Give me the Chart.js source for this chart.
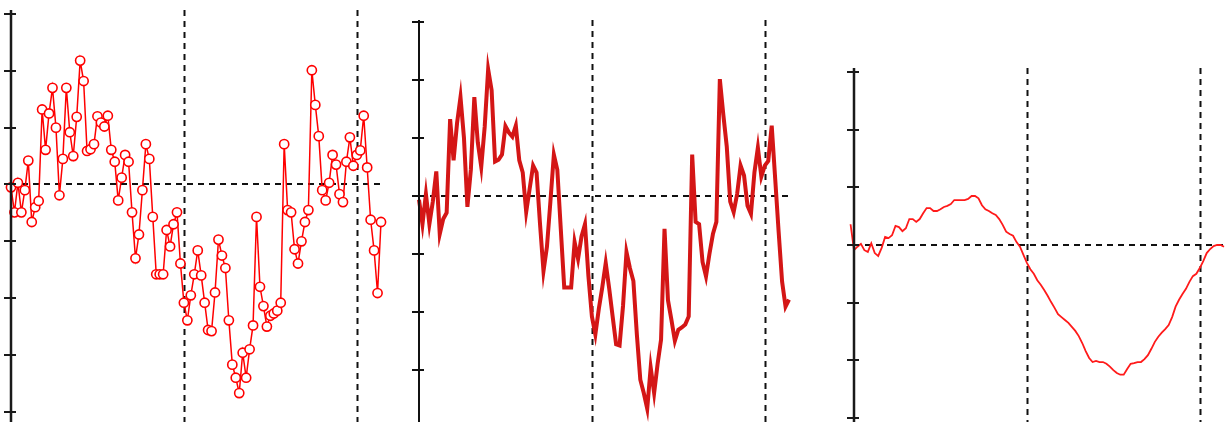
<!DOCTYPE html>
<html>
<head>
<meta charset="utf-8">
<script src="https://cdn.jsdelivr.net/npm/chart.js@4/dist/chart.umd.min.js"></script>
<style>
  html, body { margin: 0; padding: 0; background: #fff; width: 1227px; height: 422px; overflow: hidden; }
  .panel { position: absolute; top: 0; height: 422px; }
  .panel canvas { display: block; }
  #p2 canvas { filter: blur(0.45px); }
</style>
</head>
<body>
<div class="panel" id="p1" style="left:0px;width:400px"><canvas id="c1" width="400" height="422"></canvas></div>
<div class="panel" id="p2" style="left:400px;width:400px"><canvas id="c2" width="400" height="422"></canvas></div>
<div class="panel" id="p3" style="left:827px;width:400px"><canvas id="c3" width="400" height="422"></canvas></div>
<script>
// Sampled signal with markers (left panel)
const sampledSeries = [
  -0.05, -0.49, 0.03, -0.49, -0.10, 0.42, -0.66, -0.40, -0.29, 1.32,
   0.61, 1.25, 1.70, 1.00, -0.19, 0.45, 1.70, 0.92, 0.50, 1.19,
   2.18, 1.82, 0.59, 0.62, 0.71, 1.20, 1.09, 1.02, 1.21, 0.61,
   0.40, -0.28, 0.12, 0.52, 0.40, -0.49, -1.30, -0.88, -0.10, 0.71,
   0.45, -0.57, -1.58, -1.58, -1.58, -0.80, -1.09, -0.70, -0.49, -1.39,
  -2.08, -2.39, -1.95, -1.58, -1.16, -1.60, -2.08, -2.56, -2.58, -1.90,
  -0.97, -1.25, -1.47, -2.39, -3.17, -3.40, -3.67, -2.96, -3.40, -2.90,
  -2.48, -0.57, -1.80, -2.14, -2.50, -2.31, -2.27, -2.22, -2.08, 0.71,
  -0.45, -0.49, -1.14, -1.39, -1.00, -0.66, -0.45, 2.01, 1.40, 0.85,
  -0.10, -0.28, 0.03, 0.52, 0.35, -0.17, -0.31, 0.40, 0.83, 0.33,
   0.52, 0.60, 1.21, 0.30, -0.62, -1.16, -1.91, -0.66
];

// Same signal drawn as a heavy trace (middle panel)
const traceSeries = [
  -0.07, -0.49, 0.03, -0.49, -0.10, 0.42, -0.66, -0.40, -0.29, 1.32,
   0.61, 1.25, 1.70, 1.00, -0.19, 0.45, 1.70, 0.92, 0.50, 1.19,
   2.18, 1.82, 0.59, 0.62, 0.71, 1.20, 1.09, 1.02, 1.21, 0.61,
   0.40, -0.28, 0.12, 0.52, 0.40, -0.49, -1.30, -0.88, -0.10, 0.71,
   0.45, -0.57, -1.58, -1.58, -1.58, -0.80, -1.09, -0.70, -0.49, -1.39,
  -2.08, -2.39, -1.95, -1.58, -1.16, -1.60, -2.08, -2.56, -2.58, -1.90,
  -0.97, -1.25, -1.47, -2.39, -3.17, -3.40, -3.67, -2.96, -3.40, -2.90,
  -2.48, -0.57, -1.80, -2.14, -2.50, -2.31, -2.27, -2.22, -2.08, 0.71,
  -0.45, -0.49, -1.14, -1.39, -1.00, -0.66, -0.45, 2.01, 1.40, 0.85,
  -0.10, -0.28, 0.03, 0.52, 0.35, -0.17, -0.31, 0.40, 0.83, 0.33,
   0.52, 0.60, 1.21, 0.30, -0.62, -1.48, -1.91, -1.79
];

// Smoothed signal (right panel), first sample at x = -1
const smoothStart = -1;
const smoothSeries = [
   0.36, -0.09, -0.03, 0.02, -0.09, -0.12, 0.03, -0.14, -0.19, -0.05,
   0.14, 0.12, 0.17, 0.33, 0.31, 0.24, 0.29, 0.45, 0.45, 0.40,
   0.45, 0.55, 0.64, 0.64, 0.59, 0.59, 0.62, 0.66, 0.68, 0.71,
   0.78, 0.78, 0.78, 0.78, 0.80, 0.85, 0.85, 0.81, 0.69, 0.62,
   0.59, 0.55, 0.52, 0.45, 0.35, 0.23, 0.19, 0.16, 0.05, -0.03,
  -0.17, -0.31, -0.42, -0.50, -0.61, -0.69, -0.78, -0.88, -0.99, -1.09,
  -1.20, -1.25, -1.30, -1.35, -1.42, -1.49, -1.58, -1.70, -1.84, -1.96,
  -2.03, -2.01, -2.03, -2.03, -2.06, -2.11, -2.17, -2.22, -2.25, -2.25,
  -2.15, -2.06, -2.05, -2.03, -2.03, -1.98, -1.91, -1.80, -1.68, -1.59,
  -1.52, -1.46, -1.39, -1.25, -1.07, -0.95, -0.85, -0.76, -0.64, -0.54,
  -0.50, -0.40, -0.28, -0.14, -0.07, -0.02, 0.00, 0.00, -0.03, -0.09
];

// Vertical reference lines and axis ticks
const xGridValues = [50, 100];
const xLast = 107;

function toPoints(values, start) {
  return values.map((v, i) => ({ x: start + i, y: v }));
}

// Draws the dashed reference lines behind the data and the tick axis on top
const framePlugin = {
  id: 'frame',
  beforeDatasetsDraw(chart, args, opts) {
    const ctx = chart.ctx, xs = chart.scales.x, ys = chart.scales.y, area = chart.chartArea;
    ctx.save();
    ctx.strokeStyle = opts.dashColor;
    ctx.lineWidth = opts.dashWidth;
    ctx.setLineDash([6, 5]);
    xGridValues.forEach(v => {
      const px = Math.round(xs.getPixelForValue(v)) + 0.5;
      ctx.beginPath();
      ctx.moveTo(px, area.top);
      ctx.lineTo(px, chart.height);
      ctx.stroke();
    });
    const py = Math.round(ys.getPixelForValue(0));
    ctx.beginPath();
    ctx.moveTo(xs.getPixelForValue(0), py);
    ctx.lineTo(xs.getPixelForValue(opts.hEnd), py);
    ctx.stroke();
    ctx.restore();
  },
  afterDatasetsDraw(chart, args, opts) {
    const ctx = chart.ctx, xs = chart.scales.x, ys = chart.scales.y, area = chart.chartArea;
    const x0 = xs.getPixelForValue(0);
    ctx.save();
    ctx.strokeStyle = opts.axisColor;
    ctx.lineWidth = opts.axisWidth;
    ctx.beginPath();
    ctx.moveTo(x0, area.top);
    ctx.lineTo(x0, chart.height);
    ctx.stroke();
    ctx.lineWidth = 2;
    for (let v = Math.ceil(ys.min); v <= Math.floor(ys.max); v++) {
      const ty = Math.round(ys.getPixelForValue(v));
      ctx.beginPath();
      ctx.moveTo(x0 - 7, ty);
      ctx.lineTo(x0 + 5, ty);
      ctx.stroke();
    }
    ctx.restore();
  }
};

function makePanel(id, dataset, layout) {
  return new Chart(document.getElementById(id), {
    type: 'line',
    data: { datasets: [Object.assign({ clip: false, tension: 0, fill: false }, dataset)] },
    options: {
      responsive: false,
      animation: false,
      devicePixelRatio: 1,
      events: [],
      layout: { padding: layout.padding },
      plugins: {
        legend: { display: false },
        tooltip: { enabled: false },
        frame: layout.frame
      },
      scales: {
        x: { type: 'linear', display: false, min: 0, max: xLast },
        y: { type: 'linear', display: false, min: layout.yMin, max: layout.yMax }
      }
    },
    plugins: [framePlugin]
  });
}

makePanel('c1', {
  data: toPoints(sampledSeries, 0),
  borderColor: '#ff0000',
  borderWidth: 1.5,
  pointRadius: 4.6,
  pointBorderWidth: 1.6,
  pointBorderColor: '#ff0000',
  pointBackgroundColor: '#ffffff'
}, {
  padding: { left: 11, right: 19, top: 10, bottom: 0 },
  yMin: -4.07, yMax: 3.07,
  frame: { hEnd: xLast, dashColor: '#111', dashWidth: 2, axisColor: '#1a1a1a', axisWidth: 2.5 }
});

makePanel('c2', {
  data: toPoints(traceSeries, 0),
  borderColor: '#d41616',
  borderWidth: 4,
  pointRadius: 0
}, {
  padding: { left: 19, right: 11, top: 20, bottom: 0 },
  yMin: -3.9, yMax: 3.03,
  frame: { hEnd: xLast, dashColor: '#111', dashWidth: 2, axisColor: '#111', axisWidth: 2 }
});

makePanel('c3', {
  data: toPoints(smoothSeries, smoothStart),
  borderColor: '#ff1a1a',
  borderWidth: 1.8,
  pointRadius: 0
}, {
  padding: { left: 27, right: 3, top: 68, bottom: 0 },
  yMin: -3.07, yMax: 3.07,
  frame: { hEnd: 108, dashColor: '#111', dashWidth: 2, axisColor: '#1a1a1a', axisWidth: 2.5 }
});
</script>
</body>
</html>
